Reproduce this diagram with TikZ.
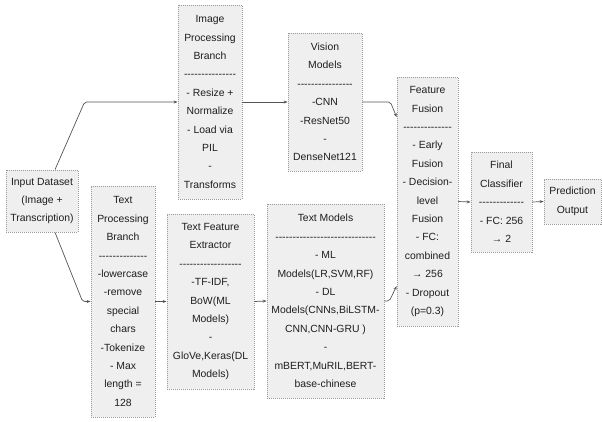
\documentclass[tikz,border=0pt]{standalone}
\usepackage{fontspec}
\setmainfont{Liberation Sans}[Ligatures=TeXOff]
\usetikzlibrary{arrows.meta}
\definecolor{boxfill}{HTML}{EFEFEF}
\definecolor{boxline}{HTML}{9A9A9A}
\definecolor{linkline}{HTML}{555555}
\definecolor{txt}{HTML}{1E1E1E}
\tikzset{
  stage/.style={draw=boxline, fill=boxfill, line width=0.8pt,
    dash pattern=on 1pt off 1pt, align=center, inner sep=0pt,
    text=txt, font=\fontsize{10.4}{18.4}\selectfont},
  link/.style={draw=linkline, line width=0.7pt, rounded corners=2pt,
    -{Stealth[length=4pt,width=3pt]}},
}
\begin{document}
\begin{tikzpicture}[x=1pt, y=-1pt]
\useasboundingbox (0,0) rectangle (602,421);

% left column
\node[stage, minimum width=72pt, minimum height=62pt] (input) at (42,201)
  {Input Dataset\\(Image +\\Transcription)};

% image branch
\node[stage, minimum width=64pt, minimum height=194pt] (imgproc) at (210,102)
  {Image\\Processing\\Branch\\---------------\\- Resize +\\Normalize\\- Load via\\PIL\\-\\Transforms};
\node[stage, minimum width=74pt, minimum height=138pt] (vision) at (325,102)
  {Vision\\Models\\----------------\\-CNN\\-ResNet50\\-\\DenseNet121};

% text branch
\node[stage, minimum width=64pt, minimum height=231pt] (textproc) at (123,301.5)
  {Text\\Processing\\Branch\\--------------\\-lowercase\\-remove\\special\\chars\\-Tokenize\\- Max\\length =\\128};
\node[stage, minimum width=87pt, minimum height=175pt] (textfeat) at (210.5,301.5)
  {Text Feature\\Extractor\\------------------\\-TF-IDF,\\BoW(ML\\Models)\\-\\GloVe,Keras(DL\\Models)};
\node[stage, minimum width=117pt, minimum height=194pt] (textmodels) at (325.5,301)
  {Text Models\\-----------------------------\\- ML\\Models(LR,SVM,RF)\\- DL\\Models(CNNs,BiLSTM-\\CNN,CNN-GRU )\\-\\mBERT,MuRIL,BERT-\\base-chinese};

% fusion and output
\node[stage, minimum width=61pt, minimum height=249pt] (fusion) at (427.5,201.5)
  {Feature\\Fusion\\--------------\\- Early\\Fusion\\- Decision-\\level\\Fusion\\- FC:\\combined\\→ 256\\- Dropout\\(p=0.3)};
\node[stage, minimum width=61pt, minimum height=100pt] (final) at (501.5,202)
  {Final\\Classifier\\-------------\\- FC: 256\\→ 2};
\node[stage, minimum width=57pt, minimum height=45pt] (pred) at (572.5,201.5)
  {Prediction\\Output};

% connectors
\draw[link] ([xshift=13pt]input.north) -- ([xshift=-93pt]imgproc.west) -- (imgproc.west);
\draw[link] ([xshift=13pt]input.south) -- ([xshift=-8pt]textproc.west) -- (textproc.west);
\draw[link] (imgproc.east) -- (vision.west);
\draw[link] (vision.east) -- ++(28,0) -- ([yshift=84.5pt]fusion.west);
\draw[link] (textproc.east) -- (textfeat.west);
\draw[link] (textfeat.east) -- (textmodels.west);
\draw[link] (textmodels.east) -- ++(5,0) -- ([yshift=-84.5pt]fusion.west);
\draw[link] (fusion.east) -- (final.west);
\draw[link] (final.east) -- (pred.west);
\end{tikzpicture}
\end{document}
